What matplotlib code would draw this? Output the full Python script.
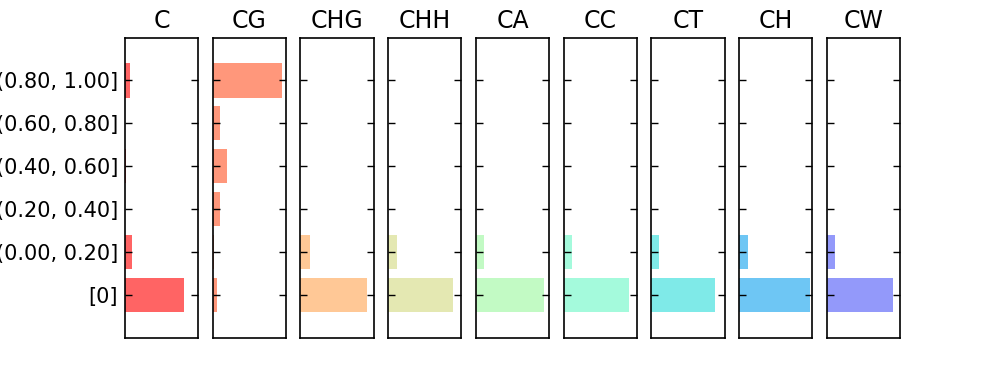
import matplotlib

matplotlib.use("Agg")
import matplotlib.pyplot as plt

# bins of the per-site value, bottom to top
bins = ["[0]", "(0.00, 0.20]", "(0.20, 0.40]", "(0.40, 0.60]", "(0.60, 0.80]", "(0.80, 1.00]"]
contexts = ["C", "CG", "CHG", "CHH", "CA", "CC", "CT", "CH", "CW"]

# fraction of sites per bin, one list per context (same order as bins)
frac_C = [0.81, 0.10, 0.0, 0.01, 0.0, 0.07]
frac_CG = [0.042, 0.016, 0.074, 0.135, 0.074, 0.664]
frac_CHG = [0.905, 0.131, 0.0, 0.0, 0.0, 0.0]
frac_CHH = [0.886, 0.115, 0.0, 0.0, 0.0, 0.0]
frac_CA = [0.926, 0.114, 0.0, 0.0, 0.0, 0.0]
frac_CC = [0.89, 0.115, 0.0, 0.0, 0.0, 0.0]
frac_CT = [0.87, 0.11, 0.0, 0.0, 0.0, 0.0]
frac_CH = [0.973, 0.127, 0.0, 0.0, 0.0, 0.0]
frac_CW = [0.91, 0.107, 0.0, 0.0, 0.0, 0.0]
fracs = [frac_C, frac_CG, frac_CHG, frac_CHH, frac_CA, frac_CC, frac_CT, frac_CH, frac_CW]

# x-axis upper limit of each panel
xmax = [1.0, 0.7, 1.0, 1.0, 1.0, 1.0, 1.0, 1.0, 1.0]

colors = ["#FF6464", "#FF977B", "#FFC896", "#E4E8B2", "#C2FAC4",
          "#A4FADC", "#7FEAE8", "#6EC6F4", "#9399FA"]


def main() -> None:
    fig, axes = plt.subplots(1, len(contexts), figsize=(10, 3.75), dpi=100, sharey=True)
    fig.subplots_adjust(left=0.125, right=0.9, bottom=0.1, top=0.9, wspace=0.2)
    ypos = list(range(len(bins)))

    for i, (ax, name) in enumerate(zip(axes, contexts)):
        ax.barh(ypos, fracs[i], height=0.8, color=colors[i], linewidth=0)
        ax.set_xlim(0, xmax[i])
        ax.set_ylim(-1, len(bins))
        ax.set_xticks([])
        ax.set_yticks(ypos)
        ax.set_yticklabels(bins)
        ax.set_title(name, fontsize=17, pad=7)
        ax.tick_params(axis="y", direction="in", length=5, width=1, left=True, right=True,
                       labelsize=15, pad=5, labelleft=(i == 0))
        for sp in ax.spines.values():
            sp.set_linewidth(1.2)
            sp.set_color("black")

    fig.savefig("out.png", dpi=100)


if __name__ == "__main__":
    main()
